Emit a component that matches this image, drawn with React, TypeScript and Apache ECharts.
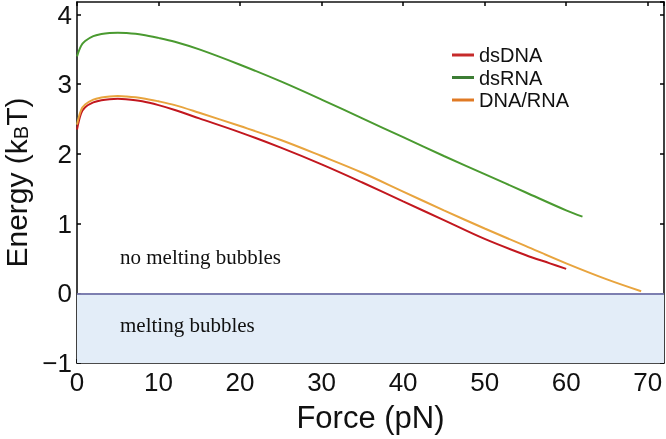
import React, { useEffect, useRef } from "react";
import * as echarts from "echarts";

// Force (pN) and energy (kBT) values
const dsDNAForce = [0, 0.5, 1, 2, 3, 4, 5, 6, 8, 10, 12, 15, 20, 25, 30, 35, 40, 45, 50, 55, 58, 60];
const dsDNAEnergy = [2.35, 2.58, 2.67, 2.74, 2.77, 2.785, 2.79, 2.785, 2.755, 2.7, 2.63, 2.51, 2.31, 2.09, 1.85, 1.59, 1.32, 1.05, 0.78, 0.55, 0.43, 0.35];

const dsRNAForce = [0, 0.5, 1, 2, 3, 4, 5, 6, 8, 10, 12, 15, 20, 25, 30, 35, 40, 45, 50, 55, 60, 62];
const dsRNAEnergy = [3.4, 3.55, 3.62, 3.69, 3.72, 3.735, 3.74, 3.735, 3.71, 3.665, 3.61, 3.5, 3.28, 3.04, 2.78, 2.51, 2.24, 1.97, 1.71, 1.45, 1.19, 1.1];

const hybridForce = [0, 0.5, 1, 2, 3, 4, 5, 6, 8, 10, 12, 15, 20, 25, 30, 35, 40, 45, 50, 55, 60, 65, 69.2];
const hybridEnergy = [2.42, 2.63, 2.71, 2.78, 2.81, 2.825, 2.83, 2.825, 2.8, 2.755, 2.7, 2.59, 2.4, 2.2, 1.97, 1.73, 1.46, 1.19, 0.93, 0.68, 0.43, 0.2, 0.03];

const seriesNames = ["dsDNA", "dsRNA", "DNA/RNA"];
const lineColors = ["#c2171e", "#4a9a30", "#e8a43e"];
const legendColors = ["#c62a2a", "#3c7d34", "#e07a24"];
const xTickLabels = ["0", "10", "20", "30", "40", "50", "60", "70"];
const regionLabels = ["no melting bubbles", "melting bubbles"];

const zip = (xs: number[], ys: number[]) => xs.map((x, i) => [x, ys[i]]);

export default function App() {
  const ref = useRef<HTMLDivElement>(null);
  useEffect(() => {
    if (!ref.current) return;
    const chart = echarts.init(ref.current, null, { renderer: "svg" });
    const sans = "Liberation Sans";
    const tick = { show: true, inside: true, length: 4, lineStyle: { color: "#000", width: 1.5 } };
    const axLine = { show: true, onZero: false, lineStyle: { color: "#111", width: 1.6 } };
    const dataSets = [zip(dsDNAForce, dsDNAEnergy), zip(dsRNAForce, dsRNAEnergy), zip(hybridForce, hybridEnergy)];
    chart.setOption({
      animation: false,
      grid: { left: 77, right: 2, top: 2, bottom: 76, containLabel: false, outerBoundsMode: "none" },
      legend: {
        orient: "vertical",
        left: 452,
        top: 45,
        padding: 0,
        icon: "rect",
        itemWidth: 22,
        itemHeight: 3,
        itemGap: 2.5,
        textStyle: { fontFamily: sans, fontSize: 20, color: "#111", lineHeight: 18 },
        data: seriesNames.map((n, i) => ({ name: n, itemStyle: { color: legendColors[i] } })),
      },
      xAxis: [
        {
          type: "value",
          min: 0,
          max: 72,
          interval: 10,
          name: "Force (pN)",
          nameLocation: "middle",
          nameGap: 39,
          nameTextStyle: { fontFamily: sans, fontSize: 31, color: "#111" },
          axisLine: axLine,
          axisTick: tick,
          splitLine: { show: false },
          axisLabel: {
            fontFamily: sans,
            fontSize: 26,
            color: "#111",
            margin: 6,
            showMaxLabel: false,
            formatter: (v: number) => (xTickLabels.includes(String(v)) ? String(v) : ""),
          },
        },
        {
          type: "value",
          position: "top",
          min: 0,
          max: 72,
          interval: 10,
          axisLine: axLine,
          axisTick: tick,
          splitLine: { show: false },
          axisLabel: { show: false },
        },
      ],
      yAxis: [
        {
          type: "value",
          min: -1,
          max: 4.18,
          interval: 1,
          name: "Energy (k{sub|B}T)",
          nameLocation: "middle",
          nameGap: 42,
          nameTextStyle: {
            fontFamily: sans,
            fontSize: 30,
            lineHeight: 30,
            color: "#111",
            rich: { sub: { fontFamily: sans, fontSize: 20, lineHeight: 4, color: "#111", verticalAlign: "bottom" } },
          },
          axisLine: axLine,
          axisTick: tick,
          splitLine: { show: false },
          axisLabel: {
            fontFamily: sans,
            fontSize: 26,
            color: "#111",
            margin: 5,
            showMaxLabel: false,
            formatter: (v: number) => (v < 0 ? "\u2212" + Math.abs(v) : String(v)),
          },
        },
        {
          type: "value",
          position: "right",
          min: -1,
          max: 4.18,
          interval: 1,
          axisLine: axLine,
          axisTick: tick,
          splitLine: { show: false },
          axisLabel: { show: false },
        },
      ],
      series: [
        ...dataSets.map((d, i) => ({
          name: seriesNames[i],
          type: "line",
          xAxisIndex: 0,
          yAxisIndex: 0,
          data: d,
          smooth: 0.35,
          showSymbol: false,
          symbol: "none",
          lineStyle: { color: lineColors[i], width: 2 },
          itemStyle: { color: lineColors[i] },
          z: 5,
        })),
        {
          name: "regions",
          type: "line",
          xAxisIndex: 0,
          yAxisIndex: 0,
          data: [],
          markArea: {
            silent: true,
            itemStyle: { color: "#e3edf8" },
            data: [[{ xAxis: 0, yAxis: -1 }, { xAxis: 72, yAxis: 0 }]],
          },
          markLine: {
            silent: true,
            symbol: "none",
            label: { show: false },
            lineStyle: { color: "#5a5a98", width: 1.6, type: "solid" },
            data: [{ yAxis: 0 }],
          },
          z: 1,
        },
      ],
      graphic: [
        {
          type: "text",
          left: 120,
          top: 246,
          z: 100,
          style: { text: regionLabels[0], fontFamily: "Liberation Serif", fontSize: 21, fill: "#111" },
        },
        {
          type: "text",
          left: 120,
          top: 314,
          z: 100,
          style: { text: regionLabels[1], fontFamily: "Liberation Serif", fontSize: 21, fill: "#111" },
        },
      ],
    });
    return () => chart.dispose();
  }, []);
  return <div ref={ref} style={{ position: "fixed", left: 0, top: 0, width: 666, height: 439 }} />;
}
